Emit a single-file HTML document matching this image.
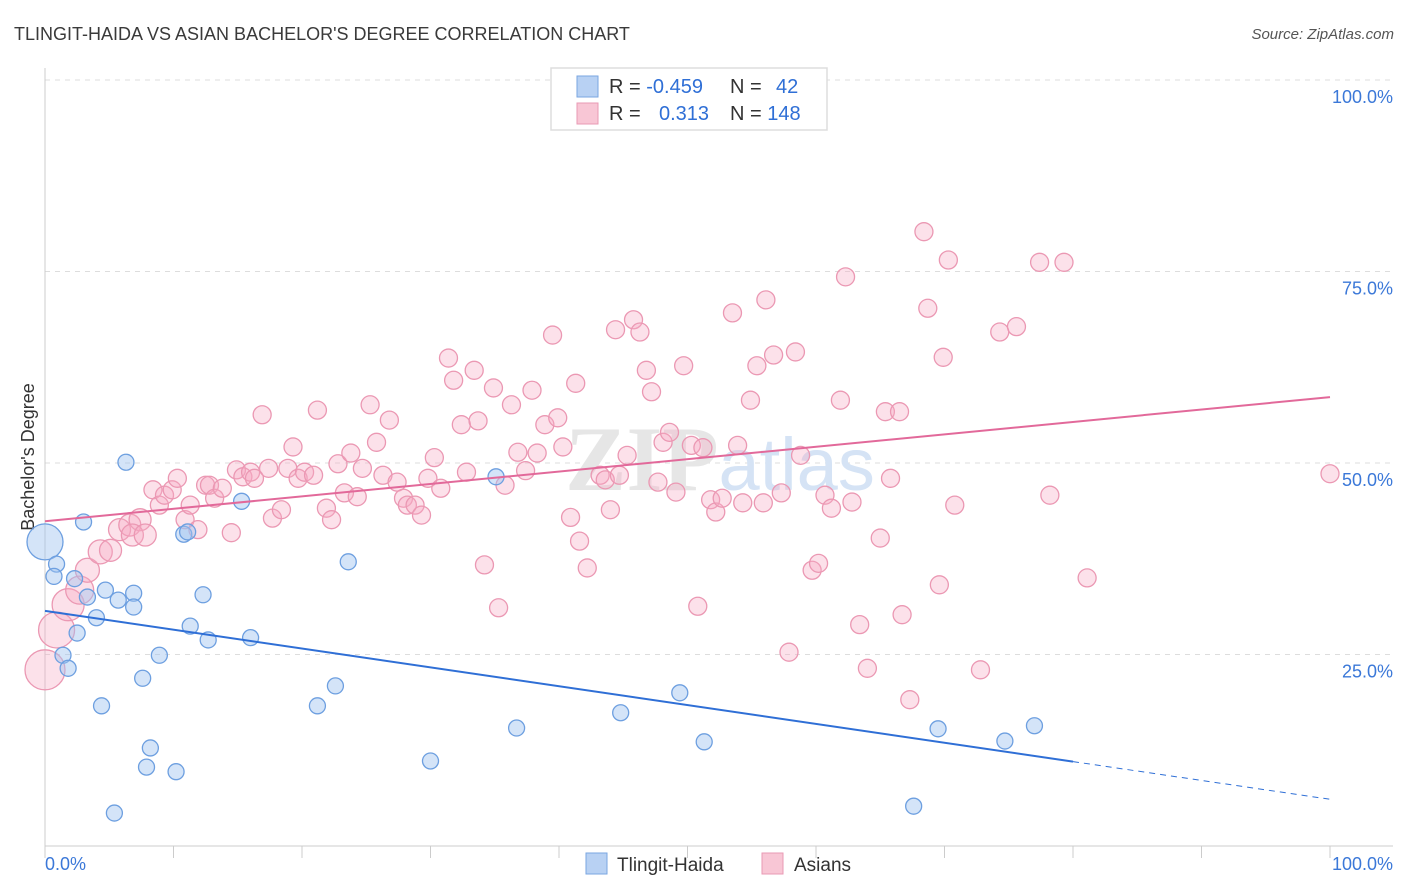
<!DOCTYPE html>
<html><head><meta charset="utf-8"><style>
body{margin:0;background:#fff;font-family:"Liberation Sans",sans-serif;}
svg{display:block}
</style></head><body>
<svg id="chart" width="1406" height="892" xmlns="http://www.w3.org/2000/svg">
<text x="14" y="40" font-size="18" fill="#3a3a3a" font-family="Liberation Sans, sans-serif">TLINGIT-HAIDA VS ASIAN BACHELOR'S DEGREE CORRELATION CHART</text>
<text x="1394" y="39" font-size="15" fill="#555" text-anchor="end" font-style="italic">Source: ZipAtlas.com</text>
<g id="grid"></g>
<text x="720" y="490" font-size="92" fill="#e6e6e6" text-anchor="middle" font-family="Liberation Serif, serif" font-weight="bold">ZIP<tspan fill="#d5e3f5" font-family="Liberation Sans, sans-serif" font-weight="normal" font-size="74">atlas</tspan></text>
<text transform="translate(34,457) rotate(-90)" font-size="18" fill="#333" text-anchor="middle">Bachelor's Degree</text>
<g id="marks"></g>
<g>
<rect x="551" y="68" width="276" height="62" fill="#fff" stroke="#ddd" stroke-width="1.5"/>
<rect x="577" y="76" width="21" height="21" fill="#b8d1f3" stroke="#7aa6e0"/>
<text x="609" y="93" font-size="20" fill="#333">R = <tspan fill="#2f6fd6">-0.459</tspan></text>
<text x="730" y="93" font-size="20" fill="#333">N = <tspan fill="#2f6fd6" x="776">42</tspan></text>
<rect x="577" y="103" width="21" height="21" fill="#f8c6d5" stroke="#e99ab4"/>
<text x="609" y="120" font-size="20" fill="#333">R = <tspan fill="#2f6fd6" x="659">0.313</tspan></text>
<text x="730" y="120" font-size="20" fill="#333">N = <tspan fill="#2f6fd6">148</tspan></text>
</g>
<g>
<rect x="586" y="853" width="21" height="21" fill="#b8d1f3" stroke="#7aa6e0"/>
<text x="617" y="871" font-size="19" fill="#333">Tlingit-Haida</text>
<rect x="762" y="853" width="21" height="21" fill="#f8c6d5" stroke="#e99ab4"/>
<text x="794" y="871" font-size="19" fill="#333">Asians</text>
</g>
</svg>
<script>
const yTicks=[25,50,75,100];
const yTickLabels=["25.0%","50.0%","75.0%","100.0%"];
const xTicks=[0,10,20,30,40,50,60,70,80,90,100];
const blueX=[0,0.9,0.7,3.0,2.3,3.3,4.7,5.7,6.9,6.9,4.0,2.5,1.4,1.8,8.9,7.6,4.4,8.2,7.9,10.2,5.4,6.3,10.8,11.1,12.3,11.3,12.7,16.0,15.3,23.6,22.6,21.2,30.0,35.1,36.7,44.8,49.4,51.3,67.6,69.5,74.7,77.0];
const blueY=[39.7,36.8,35.2,42.3,34.9,32.5,33.4,32.1,33.0,31.2,29.8,27.8,24.9,23.2,24.9,21.9,18.3,12.8,10.3,9.7,4.3,50.1,40.7,41.0,32.8,28.7,26.9,27.2,45.0,37.1,20.9,18.3,11.1,48.2,15.4,17.4,20.0,13.6,5.2,15.3,13.7,15.7];
const pinkX=[0,0.9,1.8,2.7,3.3,4.3,5.1,5.8,6.6,7.4,6.8,7.8,8.4,8.9,9.3,9.9,10.3,10.9,11.3,11.9,12.5,12.8,13.2,13.8,14.5,14.9,15.4,16.0,16.3,16.9,17.4,17.7,18.4,18.9,19.3,19.7,20.2,20.9,21.2,21.9,22.3,22.8,23.3,23.8,24.3,24.7,25.3,25.8,26.3,26.8,27.4,27.9,28.2,28.8,29.3,29.8,30.3,30.8,31.4,31.8,32.4,32.8,33.4,33.7,34.2,34.9,35.3,35.8,36.3,36.8,37.4,37.9,38.3,38.9,39.5,39.9,40.3,40.9,41.3,41.6,42.2,43.2,43.6,44.0,44.4,44.7,45.3,45.8,46.3,46.8,47.2,47.7,48.1,48.6,49.1,49.7,50.3,50.8,51.2,51.8,52.2,52.7,53.5,53.9,54.3,54.9,55.4,55.9,56.1,56.7,57.3,57.9,58.4,58.8,59.7,60.2,60.7,61.2,61.9,62.3,62.8,63.4,64.0,65.0,65.4,65.8,66.5,66.7,67.3,68.4,68.7,69.6,69.9,70.3,70.8,72.8,74.3,75.6,77.4,78.2,79.3,81.1,100];
const pinkY=[23.0,28.2,31.5,33.4,36.0,38.4,38.6,41.3,41.9,42.6,40.6,40.6,46.5,44.5,45.8,46.5,48.0,42.6,44.5,41.3,47.1,47.1,45.4,46.7,40.9,49.1,48.2,48.8,48.0,56.3,49.3,42.8,43.9,49.3,52.1,48.0,48.8,48.4,56.9,44.1,42.6,49.9,46.1,51.3,45.6,49.3,57.6,52.7,48.4,55.6,47.5,45.4,44.5,44.5,43.2,48.0,50.7,46.7,63.7,60.8,55.0,48.8,62.1,55.5,36.7,59.8,31.1,47.1,57.6,51.4,49.0,59.5,51.3,55.0,66.7,55.9,52.1,42.9,60.4,39.8,36.3,48.4,47.8,43.9,67.4,48.4,51.0,68.7,67.1,62.1,59.3,47.5,52.7,54.0,46.2,62.7,52.3,31.3,52.0,45.2,43.6,45.4,69.6,52.3,44.8,58.2,62.7,44.8,71.3,64.1,46.1,25.3,64.5,51.0,36.0,36.9,45.8,44.1,58.2,74.3,44.9,28.9,23.2,40.2,56.7,48.0,56.7,30.2,19.1,80.2,70.2,34.1,63.8,76.5,44.5,23.0,67.1,67.8,76.2,45.8,76.2,35.0,48.6];
const blueTrend=[30.7,-0.246];
const pinkTrend=[42.4,0.162];
const NS="http://www.w3.org/2000/svg";
const X0=45,X1=1330,Y0=846,Y1=80;
function sx(v){return X0+(X1-X0)*v/100;}
function sy(v){return Y0-(Y0-Y1)*v/100;}
function mk(tag,attrs,parent){const e=document.createElementNS(NS,tag);for(const k in attrs)e.setAttribute(k,attrs[k]);parent.appendChild(e);return e;}
const grid=document.getElementById('grid');
yTicks.forEach((t,i)=>{
 const l=mk('line',{x1:X0,x2:1393,y1:sy(t),y2:sy(t),stroke:'#ddd','stroke-dasharray':'5,5'},grid);
 
 
 const tx=mk('text',{x:1393,y:sy(t)+23,'font-size':18,fill:'#3b78d8','text-anchor':'end'},grid);
 tx.textContent=yTickLabels[i];
 
 
});
const ax=mk('line',{x1:X0,x2:1393,y1:Y0,y2:Y0,stroke:'#ccc'},grid);


const ay=mk('line',{x1:X0,x2:X0,y1:68,y2:Y0,stroke:'#ccc'},grid);


xTicks.forEach(t=>{
 const l=mk('line',{x1:sx(t),x2:sx(t),y1:Y0,y2:Y0+12,stroke:'#ccc'},grid);
 
 
});
const xl0=mk('text',{x:45,y:870,'font-size':18,fill:'#3b78d8'},grid);xl0.textContent='0.0%';


const xl1=mk('text',{x:1393,y:870,'font-size':18,fill:'#3b78d8','text-anchor':'end'},grid);xl1.textContent='100.0%';


const marks=document.getElementById('marks');
const bigPink=[20,18,16,14,12,12,11,11,11,11,11,11];
pinkX.forEach((x,i)=>{
 const r=i<bigPink.length?bigPink[i]:9;
 const c=mk('circle',{cx:sx(x),cy:sy(pinkY[i]),r:r,fill:'rgba(245,170,195,0.35)',stroke:'#eb98b3','stroke-width':1.3},marks);
 
 
});
blueX.forEach((x,i)=>{
 const r=i===0?18:8;
 const c=mk('circle',{cx:sx(x),cy:sy(blueY[i]),r:r,fill:'rgba(160,195,240,0.45)',stroke:'#6d9fe0','stroke-width':1.3},marks);
 
 
});
const pl=mk('line',{x1:sx(0),y1:sy(pinkTrend[0]),x2:sx(100),y2:sy(pinkTrend[0]+pinkTrend[1]*100),stroke:'#e2699a','stroke-width':2},marks);


const bl=mk('line',{x1:sx(0),y1:sy(blueTrend[0]),x2:sx(80),y2:sy(blueTrend[0]+blueTrend[1]*80),stroke:'#2f6fd6','stroke-width':2},marks);


const bd=mk('line',{x1:sx(80),y1:sy(blueTrend[0]+blueTrend[1]*80),x2:sx(100),y2:sy(blueTrend[0]+blueTrend[1]*100),stroke:'#2f6fd6','stroke-width':1,'stroke-dasharray':'6,5'},marks);


</script>
</body></html>
